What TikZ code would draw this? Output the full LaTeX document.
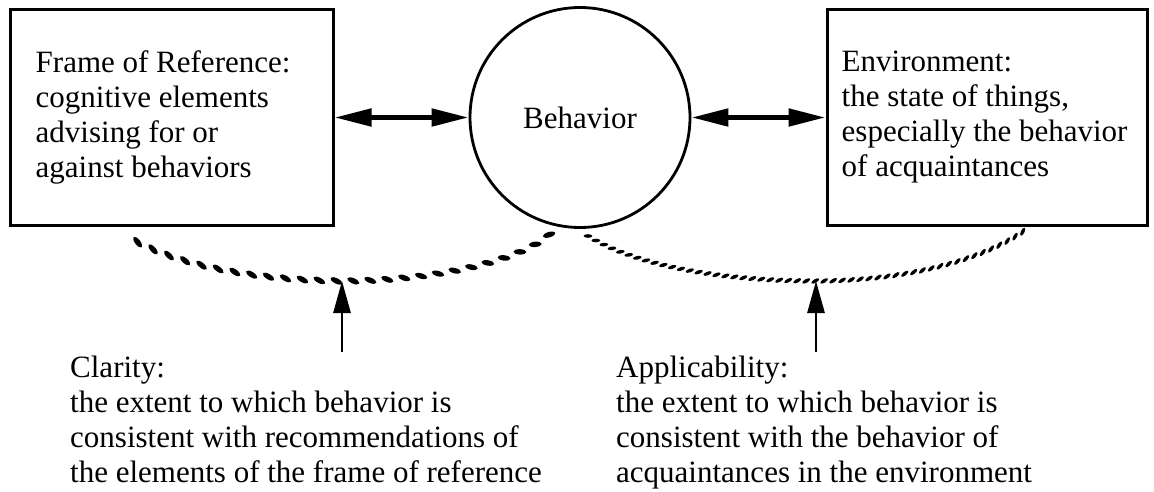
\documentclass[tikz,border=0pt]{standalone}
\usepackage{fontspec}
\setmainfont{Liberation Serif}
\usetikzlibrary{arrows.meta,decorations.markings}
\begin{document}
\begin{tikzpicture}[x=1pt,y=-1pt,
  txt/.style={align=left,inner sep=0pt,font=\fontsize{31}{35}\selectfont},
  boxshape/.style={draw,line width=3pt,minimum width=#1,minimum height=216pt,inner sep=0pt},
  ball/.style={draw,circle,line width=2.8pt,minimum size=220pt,inner sep=0pt,font=\fontsize{31}{35}\selectfont},
  bigarrow/.style={line width=5pt,{Triangle[length=37pt,width=17pt]}-{Triangle[length=37pt,width=17pt]}},
  uparrow/.style={line width=2.8pt,-{Triangle[length=32pt,width=17pt]}},
  ropecoarse/.style={decorate,decoration={markings,
    mark=between positions 0.02 and 1 step 17pt with
      {\fill[rotate=-25] (0pt,0pt) ellipse [x radius=6.5pt,y radius=2.7pt];}}},
  ropefine/.style={decorate,decoration={markings,
    mark=between positions 0 and 1 step 9pt with
      {\fill[rotate=30] (0pt,0pt) ellipse [x radius=4.4pt,y radius=1.8pt];}}}
]
\useasboundingbox (0,0) rectangle (1154,492);

% the three main elements
\node[boxshape=323pt] (frame) at (171.5,117.5) {};
\node[ball] (behavior) at (580,117.5) {Behavior};
\node[boxshape=320pt] (env) at (987,117.5) {};

\node[txt,anchor=west] (frametext) at ([xshift=27pt]frame.west)
  {Frame of Reference:\\cognitive elements\\advising for or\\against behaviors};
\node[txt,anchor=west] (envtext) at ([xshift=16pt]env.west)
  {Environment:\\the state of things,\\especially the behavior\\of acquaintances};

% mutual influence
\draw[bigarrow] (frame.east) -- (behavior.west);
\draw[bigarrow] (behavior.east) -- (env.west);

% relations shown as rope-like arcs
\coordinate (lstart) at (130,238);
\coordinate (llow) at (342,281);
\coordinate (lend) at (552,232);
\coordinate (rstart) at (588,236);
\coordinate (rlow) at (816,281);
\coordinate (rend) at (1028,228);

\path[ropecoarse] (lstart) .. controls (182,268) and (262,280) .. (llow)
  .. controls (430,281) and (522,262) .. (lend);
\path[ropefine] (rstart) .. controls (640,268) and (730,281) .. (rlow)
  .. controls (900,281) and (982,262) .. (rend);

% captions and their pointers
\node[txt,anchor=north west] (clarity) at (70,356)
  {Clarity:\\the extent to which behavior is\\consistent with recommendations of\\the elements of the frame of reference};
\node[txt,anchor=north west] (applic) at (616,356)
  {Applicability:\\the extent to which behavior is\\consistent with the behavior of\\acquaintances in the environment};

\coordinate (lfoot) at (342,352);
\coordinate (rfoot) at (816,352);
\draw[uparrow] (lfoot) -- (llow);
\draw[uparrow] (rfoot) -- (rlow);
\end{tikzpicture}
\end{document}
